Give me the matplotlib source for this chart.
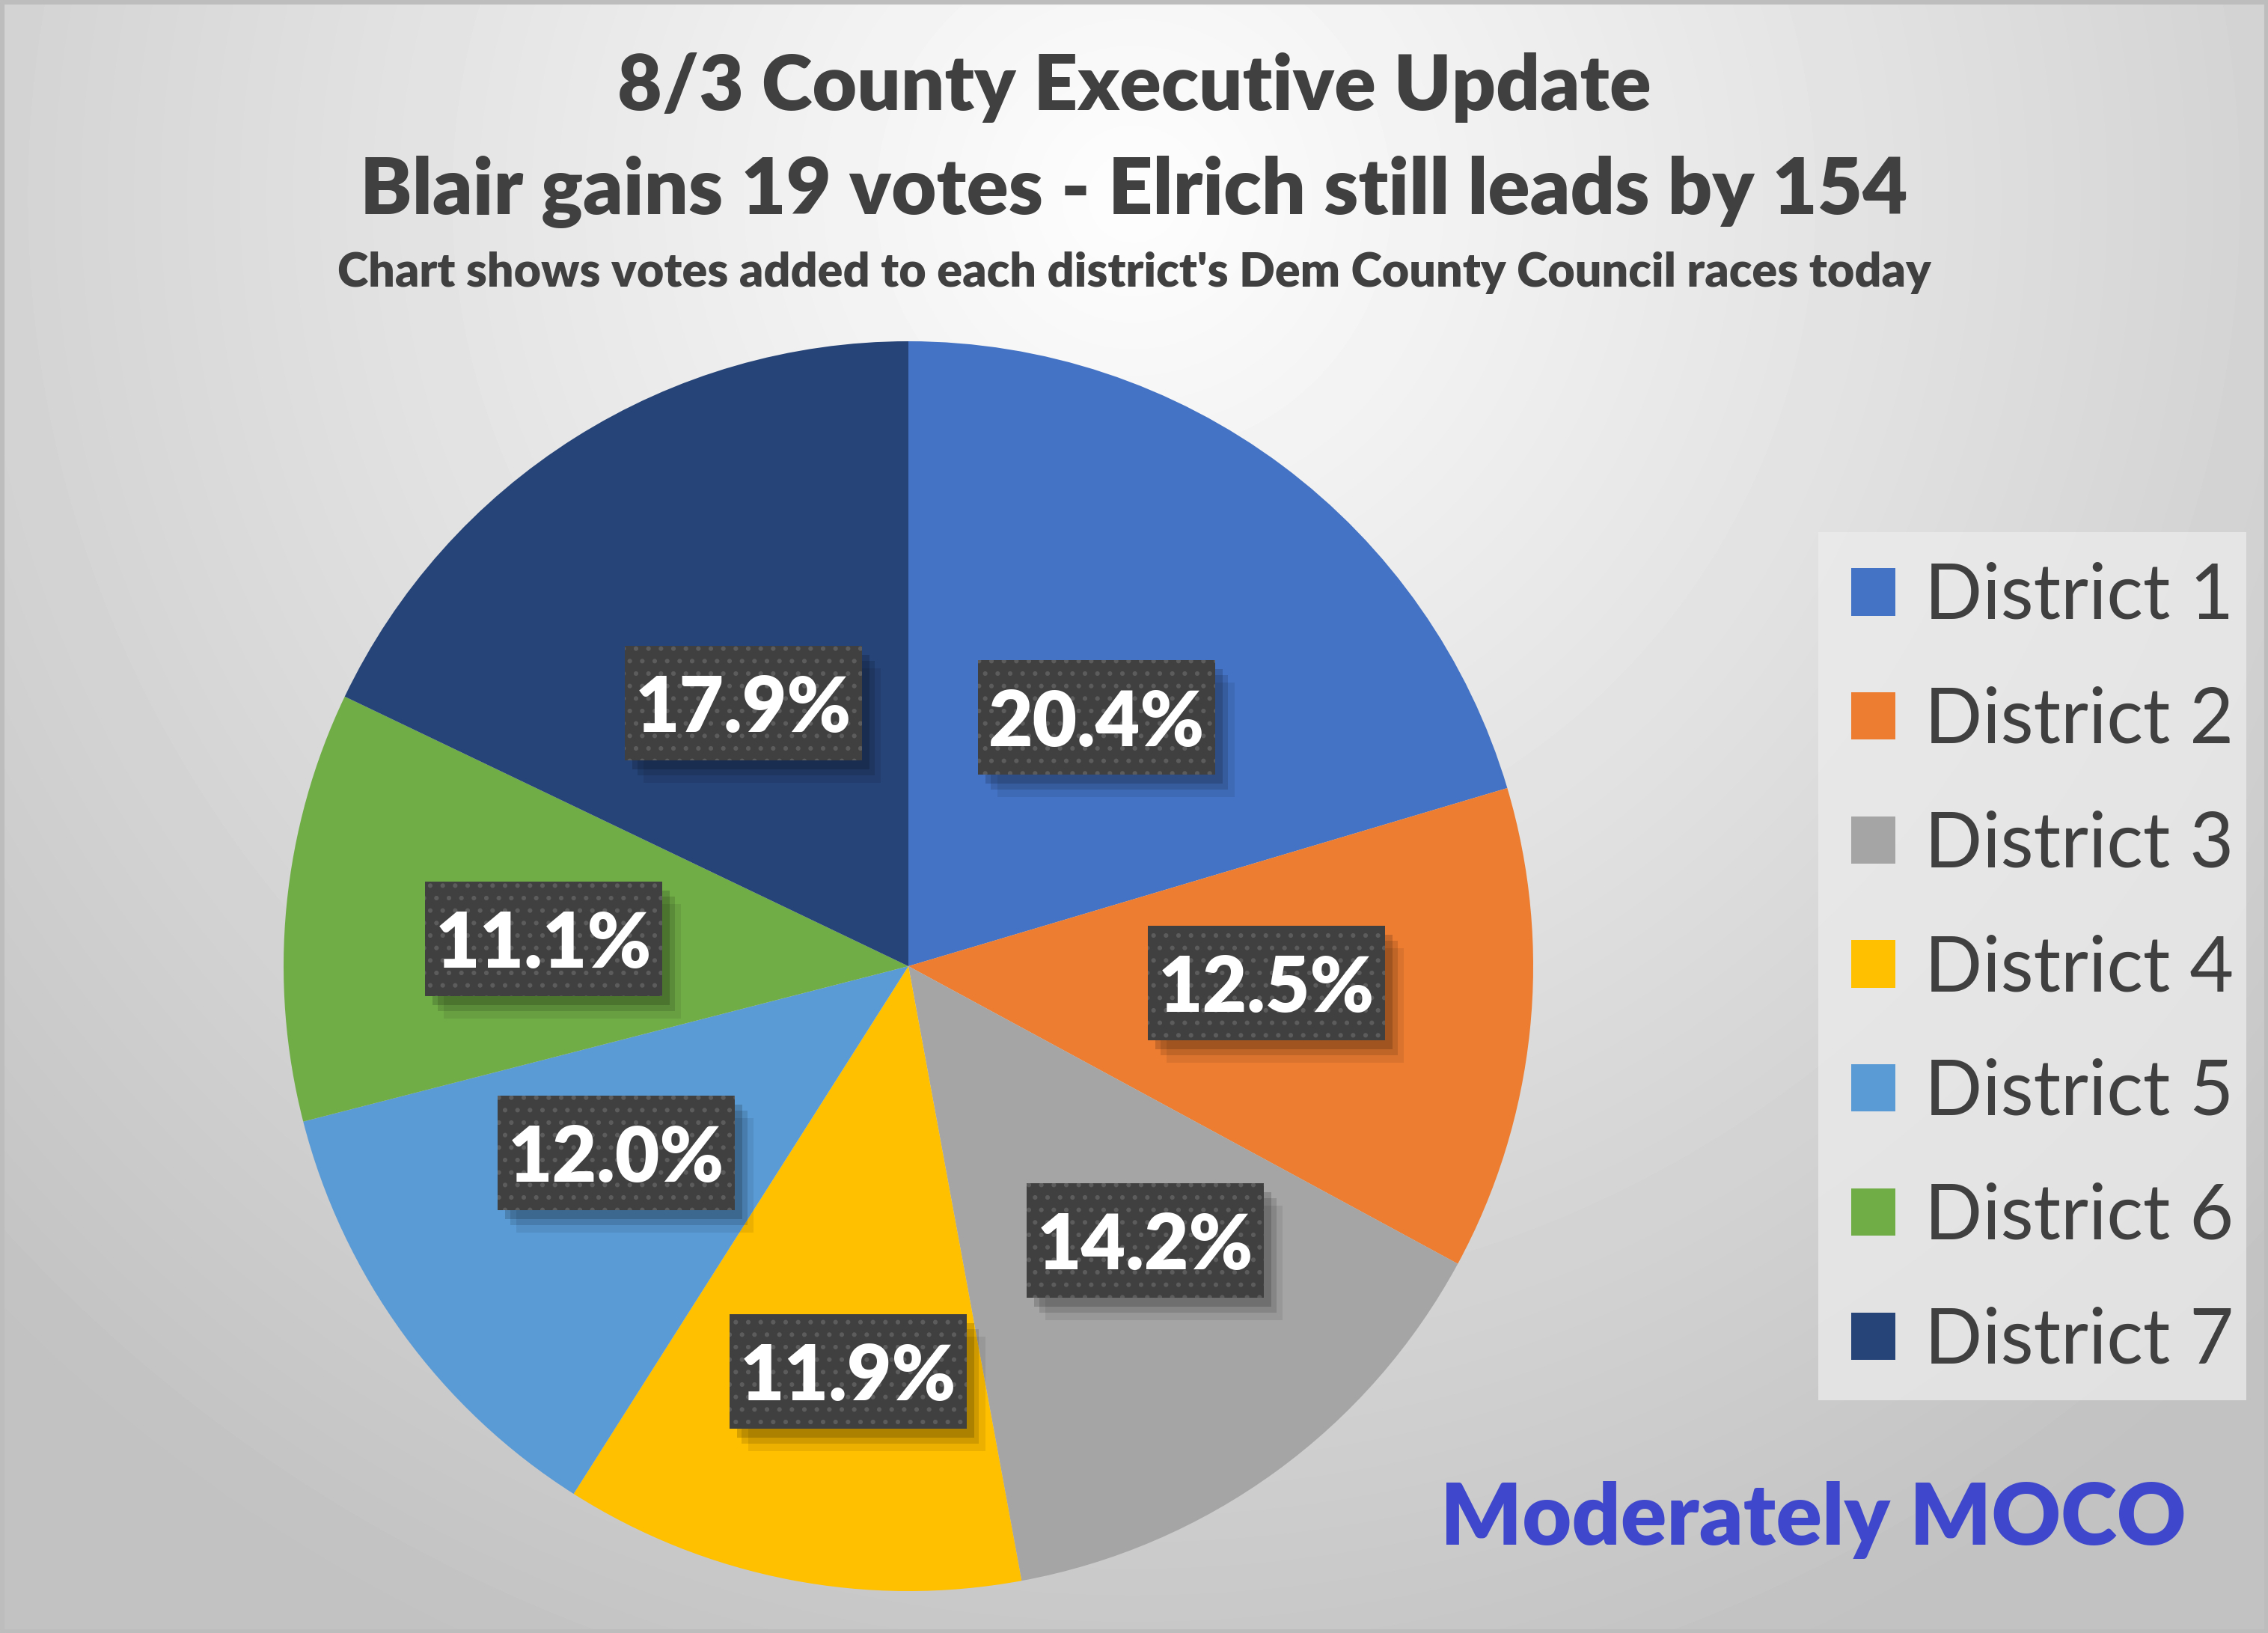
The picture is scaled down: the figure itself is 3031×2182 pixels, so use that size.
import numpy as np
import matplotlib
matplotlib.use("Agg")
import matplotlib.pyplot as plt
from matplotlib.patches import Rectangle

# data
districts = ["District 1", "District 2", "District 3", "District 4",
             "District 5", "District 6", "District 7"]
shares = [20.4, 12.5, 14.2, 11.9, 12.0, 11.1, 17.9]
colors = ["#4472C4", "#ED7D31", "#A5A5A5", "#FFC000",
          "#5B9BD5", "#70AD47", "#264478"]
# label placement: distance from centre (fraction of radius), angle nudge (deg)
label_dist = [0.50, 0.574, 0.58, 0.656, 0.555, 0.585, 0.497]
label_nudge = [-0.4, 3.2, 4.8, 2.5, -3.4, 1.3, -0.1]

title1 = "8/3 County Executive Update"
title2 = "Blair gains 19 votes - Elrich still leads by 154"
title3 = "Chart shows votes added to each district's Dem County Council races today"
brand = "Moderately MOCO"

plt.rcParams['font.family'] = ['Lato', 'DejaVu Sans']

W, H = 3031, 2182
DPI = 200
fig = plt.figure(figsize=(W / DPI, H / DPI), dpi=DPI)

# background gradient
bg = fig.add_axes([0, 0, 1, 1], zorder=-10)
yy, xx = np.mgrid[0:1:400j, 0:1:560j]
d = np.sqrt(((xx - 0.5) * 1.39) ** 2 + (yy - 0.12) ** 2)
shade = np.clip(0.995 - 0.24 * d, 0.76, 1.0)
bg.imshow(shade, cmap="gray", vmin=0, vmax=1, aspect="auto",
          extent=[0, 1, 1, 0], interpolation="bilinear")
bg.set_xlim(0, 1)
bg.set_ylim(1, 0)
bg.axis("off")
bg.add_patch(Rectangle((0, 0), 1, 1, fill=False, edgecolor="#bdbdbd",
                       linewidth=4, transform=bg.transAxes))
# legend backdrop (Excel pads it unevenly, so draw it by hand)
bg.add_patch(Rectangle((2430 / W, 1 - 1871 / H), (3002 - 2430) / W,
                       (1871 - 711) / H, facecolor="#ececec", alpha=0.75,
                       linewidth=0, transform=bg.transAxes))

# pie axes
cx, cy, r = 1214, 1291, 835
ax = fig.add_axes([(cx - r) / W, 1 - (cy + r) / H, 2 * r / W, 2 * r / H])
wedges, _ = ax.pie(shares, colors=colors, startangle=90, counterclock=False,
                   radius=1, wedgeprops=dict(linewidth=0))
ax.set_xlim(-1, 1)
ax.set_ylim(-1, 1)
ax.set_aspect("equal")

bw, bh = 317 / r, 153 / r
for w, dist, nudge, val in zip(wedges, label_dist, label_nudge, shares):
    ang = np.deg2rad((w.theta1 + w.theta2) / 2 + nudge)
    x, y = dist * np.cos(ang), dist * np.sin(ang)
    # soft shadow
    for k, a in [(0.03, 0.08), (0.02, 0.12), (0.012, 0.16)]:
        ax.add_patch(Rectangle((x - bw / 2 + k, y - bh / 2 - k * 1.2), bw, bh,
                               facecolor="black", alpha=a, linewidth=0,
                               zorder=3))
    ax.add_patch(Rectangle((x - bw / 2, y - bh / 2), bw, bh,
                           facecolor="#404040", edgecolor="#5c5c5c",
                           hatch="..", linewidth=0, zorder=4))
    ax.text(x, y, f"{val:.1f}%", ha="center", va="center_baseline",
            fontsize=37, fontweight="heavy", color="white", zorder=5)

# titles
fig.text(0.5, 0.9326, title1, ha="center", va="baseline", fontsize=37.1,
         fontweight="heavy", color="#404040")
fig.text(0.5, 0.869, title2, ha="center", va="baseline", fontsize=37.5,
         fontweight="heavy", color="#404040")
fig.text(0.5, 0.8245, title3, ha="center", va="baseline", fontsize=22.6,
         fontweight="heavy", color="#404040")

fig.text(2423 / W, 1 - 2064 / H, brand, ha="center", va="baseline",
         fontsize=41.0, fontweight="heavy", color="#3F48CC")

# legend
leg = fig.legend(wedges, districts, loc="center left",
                 bbox_to_anchor=(2474 / W, 1 - 1295 / H),
                 fontsize=36.6, frameon=False,
                 handlelength=0.58, handleheight=0.58, handletextpad=0.38,
                 labelspacing=0.705, borderpad=0, borderaxespad=0)
for t in leg.get_texts():
    t.set_color("#404040")

fig.savefig("out.png", dpi=DPI)
